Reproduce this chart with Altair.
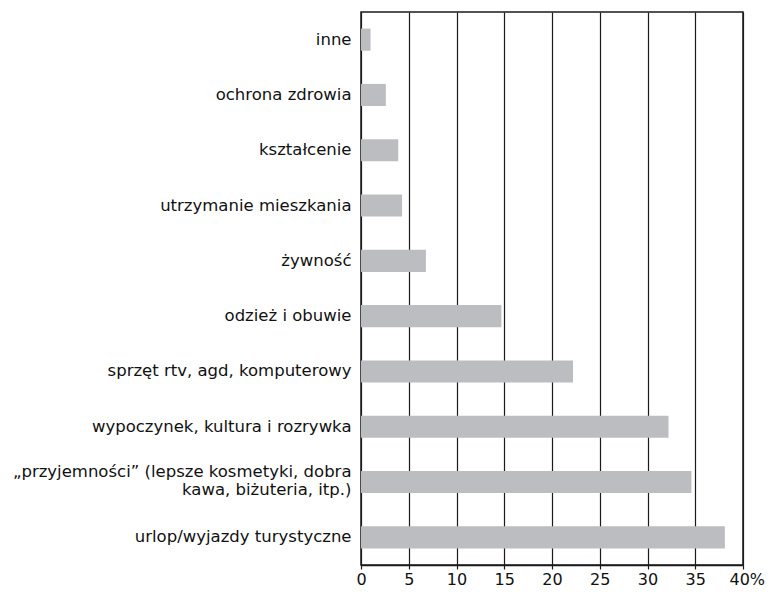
import altair as alt
import pandas as pd

categories = [
    "inne",
    "ochrona zdrowia",
    "kształcenie",
    "utrzymanie mieszkania",
    "żywność",
    "odzież i obuwie",
    "sprzęt rtv, agd, komputerowy",
    "wypoczynek, kultura i rozrywka",
    "„przyjemności” (lepsze kosmetyki, dobra|kawa, biżuteria, itp.)",
    "urlop/wyjazdy turystyczne",
]
values = [1.0, 2.6, 3.9, 4.3, 6.8, 14.7, 22.2, 32.2, 34.6, 38.1]
x_ticks = [0, 5, 10, 15, 20, 25, 30, 35, 40]

df = pd.DataFrame({"kategoria": categories, "wartosc": values})

FONT = "DejaVu Sans"
FS = 16.5

chart = (
    alt.Chart(df)
    .mark_bar(color="#bcbdc0")
    .encode(
        y=alt.Y(
            "kategoria:N",
            sort=categories,
            title=None,
            scale=alt.Scale(paddingInner=0.6, paddingOuter=0.3),
            axis=alt.Axis(
                ticks=False,
                domain=False,
                labelFont=FONT,
                labelFontSize=FS,
                labelColor="#111111",
                labelPadding=10,
                labelLimit=400,
                labelLineHeight=18,
                labelExpr="split(datum.label, '|')",
                labelOffset={"condition": {"test": "indexof(datum.value, '|') >= 0", "value": -10}, "value": 0},
            ),
        ),
        x=alt.X(
            "wartosc:Q",
            title=None,
            scale=alt.Scale(domain=[0, 40], nice=False),
            axis=alt.Axis(
                values=x_ticks,
                grid=True,
                gridColor="#1a1a1a",
                gridWidth=1.2,
                gridOpacity=1,
                domainColor="#1a1a1a",
                domainWidth=1.5,
                tickColor="#1a1a1a",
                tickWidth=1.2,
                tickSize=4,
                labelFont=FONT,
                labelFontSize=16,
                labelColor="#111111",
                labelPadding=2,
                labelFlush=False,
                labelExpr="datum.value == 40 ? '40%' : datum.label",
                labelAlign={"condition": {"test": "datum.value == 40", "value": "left"}, "value": "center"},
                labelOffset={"condition": {"test": "datum.value == 40", "value": -14}, "value": 0},
            ),
        ),
    )
    .properties(
        width=382,
        height=553,
        autosize=alt.AutoSizeParams(type="none"),
        padding={"left": 353, "top": 4, "right": 22, "bottom": 25},
    )
    .configure_view(stroke="#1a1a1a", strokeWidth=1.5)
)

chart.save("out.html", embed_options={"renderer": "svg", "actions": False})
